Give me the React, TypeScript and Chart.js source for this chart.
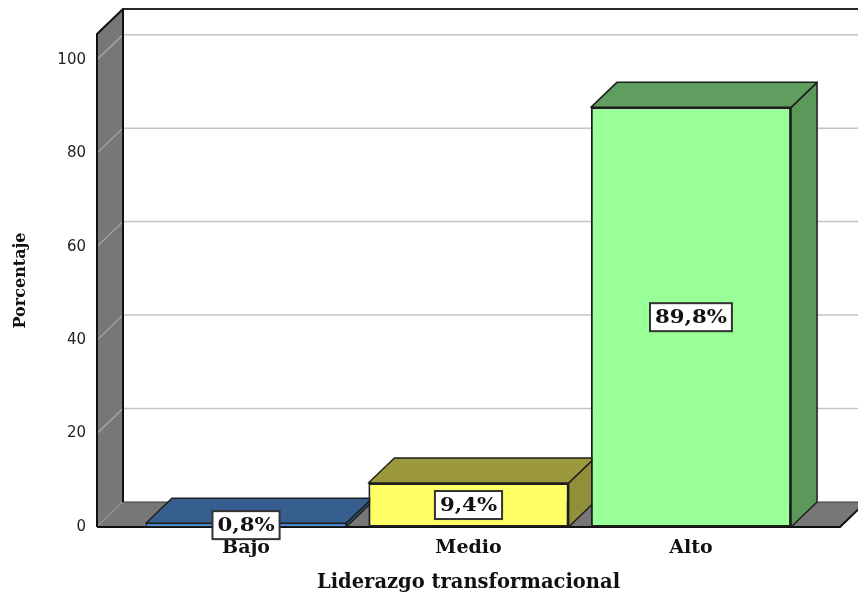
import React, { useEffect, useRef } from 'react';
import { Chart, registerables } from 'chart.js';

Chart.register(...registerables);

// Chart content
const categories = ['Bajo', 'Medio', 'Alto'];
const percentages = [0.8, 9.4, 89.8];
const yTicks = [0, 20, 40, 60, 80, 100];
const xAxisTitle = 'Liderazgo transformacional';
const yAxisTitle = 'Porcentaje';

// Face colours per bar: front, top, right side
const frontColors = ['#4a8fe0', '#ffff66', '#99ff99'];
const topColors = ['#365f90', '#9b993c', '#5f9e5f'];
const sideColors = ['#30567f', '#918f38', '#5a995a'];

// Oblique depth of the 3D box (walls, floor and bars)
const DX = 26;
const DY = -25;
const LABEL_STRETCH = 1.18;

const serifBold = (size: number) => ({ family: '"DejaVu Serif", serif', weight: 'bold' as const, size });

function poly(ctx: CanvasRenderingContext2D, pts: number[][], fill?: string, stroke?: string, lw = 1.5) {
  ctx.beginPath();
  ctx.moveTo(pts[0][0], pts[0][1]);
  for (let i = 1; i < pts.length; i++) ctx.lineTo(pts[i][0], pts[i][1]);
  ctx.closePath();
  if (fill) {
    ctx.fillStyle = fill;
    ctx.fill();
  }
  if (stroke) {
    ctx.strokeStyle = stroke;
    ctx.lineWidth = lw;
    ctx.lineJoin = 'round';
    ctx.stroke();
  }
}

function line(ctx: CanvasRenderingContext2D, pts: number[][], color: string, lw: number) {
  ctx.beginPath();
  ctx.moveTo(pts[0][0], pts[0][1]);
  for (let i = 1; i < pts.length; i++) ctx.lineTo(pts[i][0], pts[i][1]);
  ctx.strokeStyle = color;
  ctx.lineWidth = lw;
  ctx.lineJoin = 'round';
  ctx.stroke();
}

const box3d = {
  id: 'box3d',
  beforeDatasetsDraw(chart: any) {
    const { ctx, chartArea: a, scales } = chart;
    const ys = scales.y;
    const L = a.left;
    const R = a.right;
    const T = a.top;
    const B = a.bottom;
    const W = chart.width;
    ctx.save();

    // back wall gridlines
    yTicks.forEach((v) => {
      if (v === 0) return;
      const py = ys.getPixelForValue(v) + DY;
      line(ctx, [[L + DX, py], [W, py]], '#c4c4c4', 1.5);
    });
    // back wall top edge
    line(ctx, [[L + DX, T + DY], [W, T + DY]], '#2a2a2a', 2);

    // left wall
    poly(ctx, [[L, B], [L, T], [L + DX, T + DY], [L + DX, B + DY]], '#777777');
    yTicks.forEach((v) => {
      const py = ys.getPixelForValue(v);
      line(ctx, [[L, py], [L + DX, py + DY]], '#ababab', 1.2);
    });

    // floor
    poly(ctx, [[L, B], [R, B], [R + DX, B + DY], [L + DX, B + DY]], '#777777');
    line(ctx, [[L + DX, B + DY], [R + DX, B + DY]], '#3a3a3a', 1);

    // outlines
    line(ctx, [[L, B], [L, T], [L + DX, T + DY], [L + DX, B + DY]], '#111111', 2);
    line(ctx, [[L, B], [R, B], [R + DX, B + DY]], '#111111', 2);

    // bar tops and sides
    const meta = chart.getDatasetMeta(0);
    meta.data.forEach((bar: any, i: number) => {
      const { x, y, base, width } = bar.getProps(['x', 'y', 'base', 'width'], true);
      const x0 = x - width / 2;
      const x1 = x + width / 2;
      poly(ctx, [[x1, y], [x1 + DX, y + DY], [x1 + DX, base + DY], [x1, base]], sideColors[i], '#1e1e1e', 1.5);
      poly(ctx, [[x0, y], [x1, y], [x1 + DX, y + DY], [x0 + DX, y + DY]], topColors[i], '#1e1e1e', 1.5);
    });
    ctx.restore();
  },
  afterDatasetsDraw(chart: any) {
    const { ctx } = chart;
    const meta = chart.getDatasetMeta(0);
    ctx.save();
    ctx.font = 'bold 18px "DejaVu Serif", serif';
    meta.data.forEach((bar: any, i: number) => {
      const { x, y, base } = bar.getProps(['x', 'y', 'base'], true);
      const text = percentages[i].toFixed(1).replace('.', ',') + '%';
      const tw = ctx.measureText(text).width * LABEL_STRETCH;
      const w = tw + 10;
      const h = 28;
      const cy = (y + base) / 2;
      ctx.fillStyle = '#ffffff';
      ctx.fillRect(x - w / 2, cy - h / 2, w, h);
      ctx.strokeStyle = '#333333';
      ctx.lineWidth = 2;
      ctx.strokeRect(x - w / 2, cy - h / 2, w, h);
      ctx.save();
      ctx.translate(x, cy + 1);
      ctx.scale(LABEL_STRETCH, 1);
      ctx.fillStyle = '#111111';
      ctx.textAlign = 'center';
      ctx.textBaseline = 'middle';
      ctx.fillText(text, 0, 0);
      ctx.restore();
    });
    ctx.restore();
  },
};

export default function App() {
  const canvasRef = useRef<HTMLCanvasElement>(null);

  useEffect(() => {
    const canvas = canvasRef.current;
    if (!canvas) return;
    const chart = new Chart(canvas, {
      type: 'bar',
      data: {
        datasets: [
          {
            data: categories.map((_, i) => ({ x: i, y: percentages[i] })),
            backgroundColor: frontColors,
            borderColor: '#1e1e1e',
            // thin outline on the very short bar so its face stays visible
            borderWidth: (c: any) => (c.raw && c.raw.y < 2 ? 1 : 2),
            borderSkipped: false,
            categoryPercentage: 1,
            barPercentage: 0.9,
          } as any,
        ],
      },
      options: {
        responsive: false,
        animation: false,
        layout: { padding: { left: 0, right: 18, top: 34, bottom: 0 } },
        plugins: {
          legend: { display: false },
          tooltip: { enabled: false },
        },
        scales: {
          x: {
            type: 'linear',
            offset: false,
            min: -0.67,
            max: 2.67,
            afterBuildTicks: (s: any) => {
              s.ticks = categories.map((_, i) => ({ value: i }));
            },
            afterFit: (s: any) => {
              s.height = 70;
            },
            grid: { display: false, drawTicks: false, offset: false },
            border: { display: false },
            ticks: {
              autoSkip: false,
              maxRotation: 0,
              padding: 10,
              color: '#111111',
              font: serifBold(19),
              callback: (v: any) => categories[Number(v)] ?? '',
            },
            title: {
              display: true,
              text: xAxisTitle,
              color: '#111111',
              font: serifBold(19.5),
              padding: { top: 0, bottom: 2 },
            },
          },
          y: {
            min: 0,
            max: 105.5,
            afterBuildTicks: (s: any) => {
              s.ticks = yTicks.map((v) => ({ value: v }));
            },
            afterFit: (s: any) => {
              s.width = 97;
            },
            grid: { display: false, drawTicks: false },
            border: { display: false },
            ticks: {
              padding: 11,
              color: '#222222',
              font: { family: '"DejaVu Sans", sans-serif', size: 15 },
            },
            title: {
              display: true,
              text: yAxisTitle,
              color: '#111111',
              font: serifBold(16),
              padding: { top: 11, bottom: 0 },
            },
          },
        },
      } as any,
      plugins: [box3d],
    });
    return () => chart.destroy();
  }, []);

  return (
    <div style={{ position: 'fixed', left: 0, top: 0, width: 858, height: 597, background: '#ffffff' }}>
      <canvas ref={canvasRef} width={858} height={597} style={{ display: 'block' }} />
    </div>
  );
}
